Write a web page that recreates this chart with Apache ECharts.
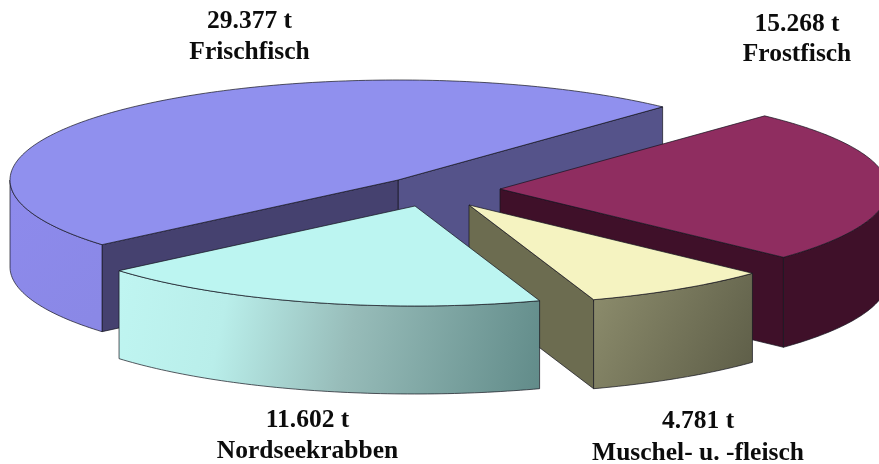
<!DOCTYPE html>
<html>
<head>
<meta charset="utf-8">
<style>html,body{margin:0;padding:0;background:#fff;overflow:hidden}#c{width:879px;height:464px}</style>
<script src="https://cdn.jsdelivr.net/npm/echarts@6/dist/echarts.min.js"></script>
</head>
<body>
<div id="c"></div>
<script>
// Data, in the order the slices run counter-clockwise
const categories = ['Frischfisch', 'Nordseekrabben', 'Muschel- u. -fleisch', 'Frostfisch'];
const tonnes = [29377, 11602, 4781, 15268];
const valueLabels = ['29.377 t', '11.602 t', '4.781 t', '15.268 t'];

// Styling and projection
const START_DEG = 47, CX = 398, CY = 180, RX = 388, RY = 100;
const depth = [87, 88, 89, 90];
const explode = [[0, 0], [17, 26], [71, 25], [102, 9]];
const labelPos = [[249.5, 21, 52], [307.5, 420, 451], [698, 421, 453], [797, 24, 54]];
const topColor = ['#9090ee', '#bcf5f1', '#f5f3c1', '#8f2d60'];
const faceStart = ['#55538a', '#45416f', '#6c6c50', '#3f1029'];
const faceEnd = ['#45416f', '#45416f', '#6c6c50', '#3f1029'];
const wallStops = [
  [[0, '#8d8aec'], [1, '#8a88e6']],
  [[0, '#bff5f1'], [0.25, '#b9eeea'], [0.55, '#97bcb9'], [1, '#628c8a']],
  [[0, '#8c8c6c'], [0.5, '#75755a'], [1, '#5e5e48']],
  [[0, '#3f1029'], [1, '#3f1029']]
];
const drawOrder = [0, 3, 2, 1];
const LINE = 'rgba(20,20,30,0.7)';

const total = tonnes.reduce((a, b) => a + b, 0);
const spans = [];
let acc = START_DEG;
tonnes.forEach(v => { const s = v / total * 360; spans.push([acc, acc + s]); acc += s; });

function pt(i, deg, drop) {
  const t = deg * Math.PI / 180;
  return [CX + explode[i][0] + RX * Math.cos(t), CY + explode[i][1] - RY * Math.sin(t) + (drop || 0)];
}
function arc(i, a, b, drop) {
  const out = [], n = Math.max(2, Math.ceil(Math.abs(b - a)));
  for (let k = 0; k <= n; k++) out.push(pt(i, a + (b - a) * k / n, drop));
  return out;
}
function poly(points, fill, z) {
  return { type: 'polygon', shape: { points }, style: { fill, stroke: LINE, lineWidth: 1 }, z2: z };
}
function cutFace(i, deg, fill, z) {
  const c = [CX + explode[i][0], CY + explode[i][1]], e = pt(i, deg), d = depth[i];
  return poly([c, e, [e[0], e[1] + d], [c[0], c[1] + d]], fill, z);
}
function renderItem(params, api) {
  const i = api.value(0), kids = [];
  const [a, b] = spans[i];
  const base = drawOrder.indexOf(i) * 10;
  if (Math.cos(a * Math.PI / 180) > 0) kids.push(cutFace(i, a, faceStart[i], base + 1));
  if (Math.cos(b * Math.PI / 180) < 0) kids.push(cutFace(i, b, faceEnd[i], base + 1));
  const wa = Math.max(a, 180), wb = Math.min(b, 360);
  if (wb > wa) {
    const topEdge = arc(i, wa, wb, 0), botEdge = arc(i, wb, wa, depth[i]);
    kids.push(poly(topEdge.concat(botEdge), new echarts.graphic.LinearGradient(0, 0.15, 1, 0.85,
      wallStops[i].map(s => ({ offset: s[0], color: s[1] }))), base + 2));
  }
  const c = [CX + explode[i][0], CY + explode[i][1]];
  kids.push(poly([c].concat(arc(i, a, b, 0)), topColor[i], base + 3));
  const font = { fontFamily: 'Liberation Serif', fontWeight: 'bold', fontSize: 25.5, fill: '#0c0c0c', align: 'center', verticalAlign: 'middle' };
  kids.push({ type: 'text', z2: 100, style: Object.assign({ text: valueLabels[i], x: labelPos[i][0], y: labelPos[i][1] }, font) });
  kids.push({ type: 'text', z2: 100, style: Object.assign({ text: categories[i], x: labelPos[i][0], y: labelPos[i][2] }, font) });
  return { type: 'group', children: kids };
}

const chart = echarts.init(document.getElementById('c'), null, { renderer: 'canvas' });
chart.setOption({
  animation: false,
  backgroundColor: '#fff',
  series: [{
    type: 'custom',
    coordinateSystem: 'none',
    silent: true,
    clip: false,
    renderItem,
    data: drawOrder.map(i => [i, tonnes[i]])
  }]
});
</script>
</body>
</html>
